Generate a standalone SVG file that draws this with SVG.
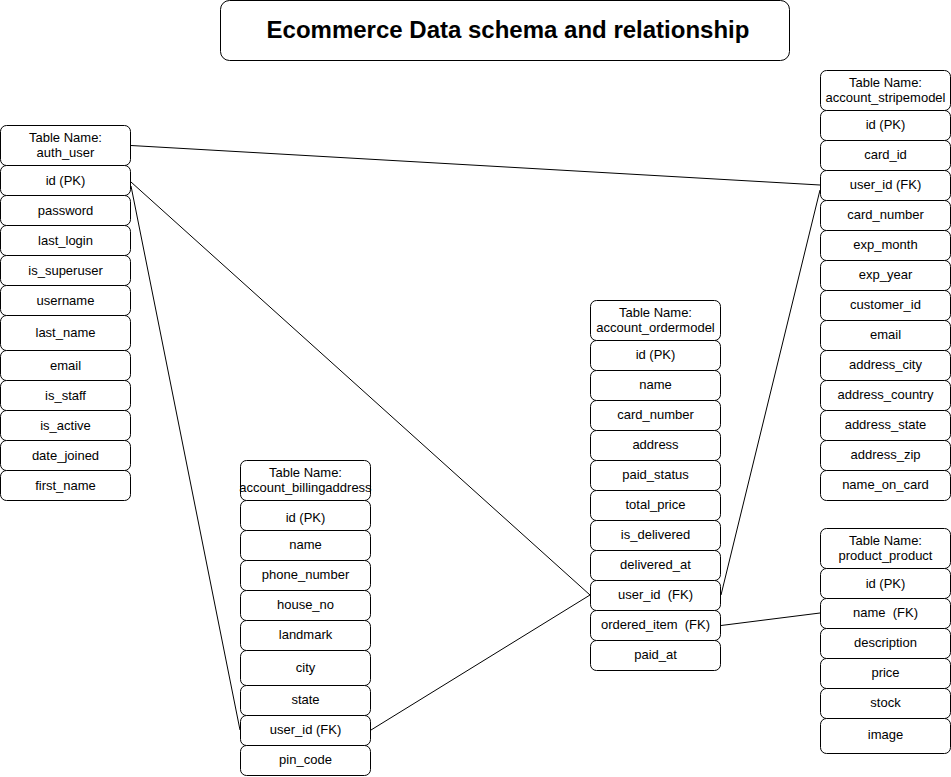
<svg xmlns="http://www.w3.org/2000/svg" width="951" height="777" viewBox="0 0 951 777">
<style>
.b{fill:#fff;stroke:#000;stroke-width:1}
.t{font-family:"Liberation Sans",Arial,Helvetica,sans-serif;font-size:13px;text-anchor:middle;fill:#000}
.c{fill:none;stroke:#000;stroke-width:1}
</style>
<rect width="951" height="777" fill="#fff"/>
<g id="title">
<rect class="b" x="220.5" y="0.5" width="569" height="60" rx="9"/>
<text x="508" y="38" style="font-family:'Liberation Sans',Arial,sans-serif;font-size:24px;font-weight:bold;text-anchor:middle">Ecommerce Data schema and relationship</text>
</g>
<g id="auth_user">
<rect class="b" x="0.5" y="125.5" width="130" height="40" rx="6"/>
<text class="t" x="65.5" y="142">Table Name:</text>
<text class="t" x="65.5" y="157">auth_user</text>
<rect class="b" x="0.5" y="165.5" width="130" height="30" rx="6"/><text class="t" x="65.5" y="185">id (PK)</text>
<rect class="b" x="0.5" y="195.5" width="130" height="30" rx="6"/><text class="t" x="65.5" y="215">password</text>
<rect class="b" x="0.5" y="225.5" width="130" height="30" rx="6"/><text class="t" x="65.5" y="245">last_login</text>
<rect class="b" x="0.5" y="255.5" width="130" height="30" rx="6"/><text class="t" x="65.5" y="275">is_superuser</text>
<rect class="b" x="0.5" y="285.5" width="130" height="30" rx="6"/><text class="t" x="65.5" y="305">username</text>
<rect class="b" x="0.5" y="315.5" width="130" height="35" rx="6"/><text class="t" x="65.5" y="337">last_name</text>
<rect class="b" x="0.5" y="350.5" width="130" height="30" rx="6"/><text class="t" x="65.5" y="370">email</text>
<rect class="b" x="0.5" y="380.5" width="130" height="30" rx="6"/><text class="t" x="65.5" y="400">is_staff</text>
<rect class="b" x="0.5" y="410.5" width="130" height="30" rx="6"/><text class="t" x="65.5" y="430">is_active</text>
<rect class="b" x="0.5" y="440.5" width="130" height="30" rx="6"/><text class="t" x="65.5" y="460">date_joined</text>
<rect class="b" x="0.5" y="470.5" width="130" height="30" rx="6"/><text class="t" x="65.5" y="490">first_name</text>
</g>
<g id="account_billingaddress">
<rect class="b" x="240.5" y="460.5" width="130" height="40" rx="6"/>
<text class="t" x="305.5" y="477">Table Name:</text>
<text class="t" x="305.5" y="492">account_billingaddress</text>
<rect class="b" x="240.5" y="500.5" width="130" height="30" rx="6"/><text class="t" x="305.5" y="522">id (PK)</text>
<rect class="b" x="240.5" y="530.5" width="130" height="30" rx="6"/><text class="t" x="305.5" y="549">name</text>
<rect class="b" x="240.5" y="560.5" width="130" height="30" rx="6"/><text class="t" x="305.5" y="579">phone_number</text>
<rect class="b" x="240.5" y="590.5" width="130" height="30" rx="6"/><text class="t" x="305.5" y="609">house_no</text>
<rect class="b" x="240.5" y="620.5" width="130" height="30" rx="6"/><text class="t" x="305.5" y="639">landmark</text>
<rect class="b" x="240.5" y="650.5" width="130" height="35" rx="6"/><text class="t" x="305.5" y="672">city</text>
<rect class="b" x="240.5" y="685.5" width="130" height="30" rx="6"/><text class="t" x="305.5" y="704">state</text>
<rect class="b" x="240.5" y="715.5" width="130" height="30" rx="6"/><text class="t" x="305.5" y="734">user_id (FK)</text>
<rect class="b" x="240.5" y="745.5" width="130" height="30" rx="6"/><text class="t" x="305.5" y="764">pin_code</text>
</g>
<g id="account_ordermodel">
<rect class="b" x="590.5" y="300.5" width="130" height="40" rx="6"/>
<text class="t" x="655.5" y="317">Table Name:</text>
<text class="t" x="655.5" y="332">account_ordermodel</text>
<rect class="b" x="590.5" y="340.5" width="130" height="30" rx="6"/><text class="t" x="655.5" y="359">id (PK)</text>
<rect class="b" x="590.5" y="370.5" width="130" height="30" rx="6"/><text class="t" x="655.5" y="389">name</text>
<rect class="b" x="590.5" y="400.5" width="130" height="30" rx="6"/><text class="t" x="655.5" y="419">card_number</text>
<rect class="b" x="590.5" y="430.5" width="130" height="30" rx="6"/><text class="t" x="655.5" y="449">address</text>
<rect class="b" x="590.5" y="460.5" width="130" height="30" rx="6"/><text class="t" x="655.5" y="479">paid_status</text>
<rect class="b" x="590.5" y="490.5" width="130" height="30" rx="6"/><text class="t" x="655.5" y="509">total_price</text>
<rect class="b" x="590.5" y="520.5" width="130" height="30" rx="6"/><text class="t" x="655.5" y="539">is_delivered</text>
<rect class="b" x="590.5" y="550.5" width="130" height="30" rx="6"/><text class="t" x="655.5" y="569">delivered_at</text>
<rect class="b" x="590.5" y="580.5" width="130" height="30" rx="6"/><text class="t" x="655.5" y="599" xml:space="preserve">user_id  (FK)</text>
<rect class="b" x="590.5" y="610.5" width="130" height="30" rx="6"/><text class="t" x="655.5" y="629" xml:space="preserve">ordered_item  (FK)</text>
<rect class="b" x="590.5" y="640.5" width="130" height="30" rx="6"/><text class="t" x="655.5" y="659">paid_at</text>
</g>
<g id="account_stripemodel">
<rect class="b" x="820.5" y="70.5" width="130" height="40" rx="6"/>
<text class="t" x="885.5" y="87">Table Name:</text>
<text class="t" x="885.5" y="102">account_stripemodel</text>
<rect class="b" x="820.5" y="110.5" width="130" height="30" rx="6"/><text class="t" x="885.5" y="129">id (PK)</text>
<rect class="b" x="820.5" y="140.5" width="130" height="30" rx="6"/><text class="t" x="885.5" y="159">card_id</text>
<rect class="b" x="820.5" y="170.5" width="130" height="30" rx="6"/><text class="t" x="885.5" y="189">user_id (FK)</text>
<rect class="b" x="820.5" y="200.5" width="130" height="30" rx="6"/><text class="t" x="885.5" y="219">card_number</text>
<rect class="b" x="820.5" y="230.5" width="130" height="30" rx="6"/><text class="t" x="885.5" y="249">exp_month</text>
<rect class="b" x="820.5" y="260.5" width="130" height="30" rx="6"/><text class="t" x="885.5" y="279">exp_year</text>
<rect class="b" x="820.5" y="290.5" width="130" height="30" rx="6"/><text class="t" x="885.5" y="309">customer_id</text>
<rect class="b" x="820.5" y="320.5" width="130" height="30" rx="6"/><text class="t" x="885.5" y="339">email</text>
<rect class="b" x="820.5" y="350.5" width="130" height="30" rx="6"/><text class="t" x="885.5" y="369">address_city</text>
<rect class="b" x="820.5" y="380.5" width="130" height="30" rx="6"/><text class="t" x="885.5" y="399">address_country</text>
<rect class="b" x="820.5" y="410.5" width="130" height="30" rx="6"/><text class="t" x="885.5" y="429">address_state</text>
<rect class="b" x="820.5" y="440.5" width="130" height="30" rx="6"/><text class="t" x="885.5" y="459">address_zip</text>
<rect class="b" x="820.5" y="470.5" width="130" height="30" rx="6"/><text class="t" x="885.5" y="489">name_on_card</text>
</g>
<g id="product_product">
<rect class="b" x="820.5" y="528.5" width="130" height="40" rx="6"/>
<text class="t" x="885.5" y="545">Table Name:</text>
<text class="t" x="885.5" y="560">product_product</text>
<rect class="b" x="820.5" y="568.5" width="130" height="30" rx="6"/><text class="t" x="885.5" y="588">id (PK)</text>
<rect class="b" x="820.5" y="598.5" width="130" height="30" rx="6"/><text class="t" x="885.5" y="617" xml:space="preserve">name  (FK)</text>
<rect class="b" x="820.5" y="628.5" width="130" height="30" rx="6"/><text class="t" x="885.5" y="647">description</text>
<rect class="b" x="820.5" y="658.5" width="130" height="30" rx="6"/><text class="t" x="885.5" y="677">price</text>
<rect class="b" x="820.5" y="688.5" width="130" height="30" rx="6"/><text class="t" x="885.5" y="707">stock</text>
<rect class="b" x="820.5" y="718.5" width="130" height="35" rx="6"/><text class="t" x="885.5" y="739">image</text>
</g>
<g id="connectors">
<line class="c" x1="131" y1="145.5" x2="820" y2="185"/>
<line class="c" x1="131" y1="182" x2="590" y2="595"/>
<line class="c" x1="131" y1="186" x2="240" y2="730"/>
<line class="c" x1="371" y1="730" x2="590" y2="595"/>
<line class="c" x1="721" y1="595" x2="820" y2="190"/>
<line class="c" x1="721" y1="625.5" x2="820" y2="613"/>
</g>
</svg>
